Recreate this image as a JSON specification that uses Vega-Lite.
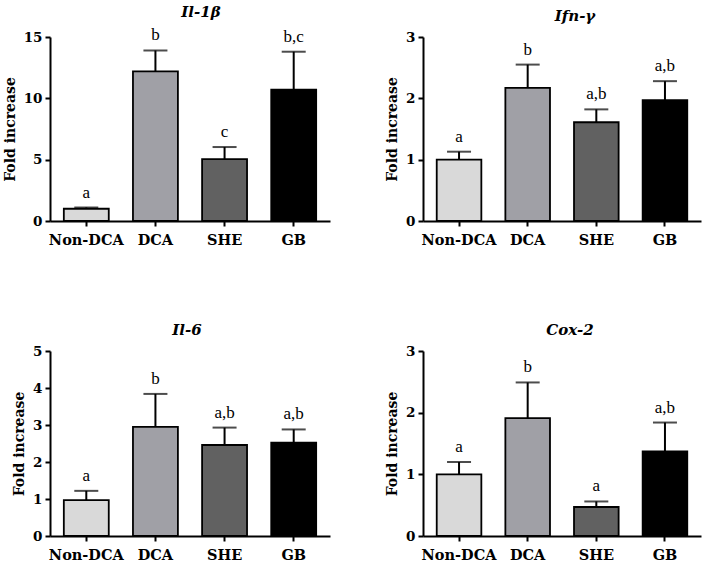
{
  "$schema": "https://vega.github.io/schema/vega-lite/v6.json",
  "background": "white",
  "padding": {"left": 3, "top": 5, "right": 5, "bottom": 5},
  "datasets": {
    "expr": [
      {"gene": "Il-1β", "group": "Non-DCA", "mean": 1.0, "upper": 1.1, "letter": "a"},
      {"gene": "Il-1β", "group": "DCA", "mean": 12.2, "upper": 13.9, "letter": "b"},
      {"gene": "Il-1β", "group": "SHE", "mean": 5.05, "upper": 6.03, "letter": "c"},
      {"gene": "Il-1β", "group": "GB", "mean": 10.7, "upper": 13.8, "letter": "b,c"},
      {"gene": "Ifn-γ", "group": "Non-DCA", "mean": 1.0, "upper": 1.13, "letter": "a"},
      {"gene": "Ifn-γ", "group": "DCA", "mean": 2.17, "upper": 2.55, "letter": "b"},
      {"gene": "Ifn-γ", "group": "SHE", "mean": 1.61, "upper": 1.82, "letter": "a,b"},
      {"gene": "Ifn-γ", "group": "GB", "mean": 1.97, "upper": 2.28, "letter": "a,b"},
      {"gene": "Il-6", "group": "Non-DCA", "mean": 0.97, "upper": 1.22, "letter": "a"},
      {"gene": "Il-6", "group": "DCA", "mean": 2.95, "upper": 3.84, "letter": "b"},
      {"gene": "Il-6", "group": "SHE", "mean": 2.46, "upper": 2.93, "letter": "a,b"},
      {"gene": "Il-6", "group": "GB", "mean": 2.52, "upper": 2.88, "letter": "a,b"},
      {"gene": "Cox-2", "group": "Non-DCA", "mean": 1.0, "upper": 1.2, "letter": "a"},
      {"gene": "Cox-2", "group": "DCA", "mean": 1.91, "upper": 2.49, "letter": "b"},
      {"gene": "Cox-2", "group": "SHE", "mean": 0.47, "upper": 0.56, "letter": "a"},
      {"gene": "Cox-2", "group": "GB", "mean": 1.37, "upper": 1.84, "letter": "a,b"}
    ]
  },
  "data": {"name": "expr"},
  "vconcat": [
    {
      "hconcat": [
        {
          "title": {"text": "Il-1β", "anchor": "middle", "dx": 11},
          "width": 280,
          "height": 184,
          "transform": [{"filter": "datum.gene === 'Il-1β'"}],
          "encoding": {
            "x": {"field": "group", "type": "nominal", "sort": ["Non-DCA", "DCA", "SHE", "GB"], "title": null},
            "y": {"field": "mean", "type": "quantitative", "title": "Fold increase",
                  "scale": {"domain": [0, 15], "nice": false}, "axis": {"values": [0, 5, 10, 15]}}
          },
          "layer": [
            {"mark": {"type": "bar", "stroke": "black", "strokeWidth": 1.8},
             "encoding": {"color": {"field": "group", "type": "nominal", "legend": null,
               "scale": {"domain": ["Non-DCA", "DCA", "SHE", "GB"], "range": ["#d9d9d9", "#a0a0a6", "#616161", "#000000"]}}}},
            {"mark": {"type": "rule", "color": "black", "strokeWidth": 2}, "encoding": {"y2": {"field": "upper"}}},
            {"mark": {"type": "tick", "color": "black", "size": 24, "thickness": 2}, "encoding": {"y": {"field": "upper", "type": "quantitative"}}},
            {"mark": {"type": "text", "dy": -10, "baseline": "alphabetic", "fontSize": 17, "fill": "black", "font": "Liberation Serif"},
             "encoding": {"y": {"field": "upper", "type": "quantitative"}, "text": {"field": "letter"}}}
          ]
        },
        {
          "title": {"text": "Ifn-γ", "anchor": "middle", "dx": 13},
          "width": 278,
          "height": 184,
          "transform": [{"filter": "datum.gene === 'Ifn-γ'"}],
          "encoding": {
            "x": {"field": "group", "type": "nominal", "sort": ["Non-DCA", "DCA", "SHE", "GB"], "title": null},
            "y": {"field": "mean", "type": "quantitative", "title": "Fold increase",
                  "scale": {"domain": [0, 3], "nice": false}, "axis": {"values": [0, 1, 2, 3]}}
          },
          "layer": [
            {"mark": {"type": "bar", "stroke": "black", "strokeWidth": 1.8},
             "encoding": {"color": {"field": "group", "type": "nominal", "legend": null,
               "scale": {"domain": ["Non-DCA", "DCA", "SHE", "GB"], "range": ["#d9d9d9", "#a0a0a6", "#616161", "#000000"]}}}},
            {"mark": {"type": "rule", "color": "black", "strokeWidth": 2}, "encoding": {"y2": {"field": "upper"}}},
            {"mark": {"type": "tick", "color": "black", "size": 24, "thickness": 2}, "encoding": {"y": {"field": "upper", "type": "quantitative"}}},
            {"mark": {"type": "text", "dy": -10, "baseline": "alphabetic", "fontSize": 17, "fill": "black", "font": "Liberation Serif"},
             "encoding": {"y": {"field": "upper", "type": "quantitative"}, "text": {"field": "letter"}}}
          ]
        }
      ]
    },
    {
      "hconcat": [
        {
          "title": {"text": "Il-6", "anchor": "middle", "dx": -3},
          "width": 280,
          "height": 185,
          "transform": [{"filter": "datum.gene === 'Il-6'"}],
          "encoding": {
            "x": {"field": "group", "type": "nominal", "sort": ["Non-DCA", "DCA", "SHE", "GB"], "title": null},
            "y": {"field": "mean", "type": "quantitative", "title": "Fold increase",
                  "scale": {"domain": [0, 5], "nice": false}, "axis": {"values": [0, 1, 2, 3, 4, 5]}}
          },
          "layer": [
            {"mark": {"type": "bar", "stroke": "black", "strokeWidth": 1.8},
             "encoding": {"color": {"field": "group", "type": "nominal", "legend": null,
               "scale": {"domain": ["Non-DCA", "DCA", "SHE", "GB"], "range": ["#d9d9d9", "#a0a0a6", "#616161", "#000000"]}}}},
            {"mark": {"type": "rule", "color": "black", "strokeWidth": 2}, "encoding": {"y2": {"field": "upper"}}},
            {"mark": {"type": "tick", "color": "black", "size": 24, "thickness": 2}, "encoding": {"y": {"field": "upper", "type": "quantitative"}}},
            {"mark": {"type": "text", "dy": -10, "baseline": "alphabetic", "fontSize": 17, "fill": "black", "font": "Liberation Serif"},
             "encoding": {"y": {"field": "upper", "type": "quantitative"}, "text": {"field": "letter"}}}
          ]
        },
        {
          "title": {"text": "Cox-2", "anchor": "middle", "dx": 8},
          "width": 278,
          "height": 185,
          "transform": [{"filter": "datum.gene === 'Cox-2'"}],
          "encoding": {
            "x": {"field": "group", "type": "nominal", "sort": ["Non-DCA", "DCA", "SHE", "GB"], "title": null},
            "y": {"field": "mean", "type": "quantitative", "title": "Fold increase",
                  "scale": {"domain": [0, 3], "nice": false}, "axis": {"values": [0, 1, 2, 3]}}
          },
          "layer": [
            {"mark": {"type": "bar", "stroke": "black", "strokeWidth": 1.8},
             "encoding": {"color": {"field": "group", "type": "nominal", "legend": null,
               "scale": {"domain": ["Non-DCA", "DCA", "SHE", "GB"], "range": ["#d9d9d9", "#a0a0a6", "#616161", "#000000"]}}}},
            {"mark": {"type": "rule", "color": "black", "strokeWidth": 2}, "encoding": {"y2": {"field": "upper"}}},
            {"mark": {"type": "tick", "color": "black", "size": 24, "thickness": 2}, "encoding": {"y": {"field": "upper", "type": "quantitative"}}},
            {"mark": {"type": "text", "dy": -10, "baseline": "alphabetic", "fontSize": 17, "fill": "black", "font": "Liberation Serif"},
             "encoding": {"y": {"field": "upper", "type": "quantitative"}, "text": {"field": "letter"}}}
          ]
        }
      ],
      "spacing": 55
    }
  ],
  "spacing": 76,
  "config": {
    "view": {"stroke": null},
    "concat": {"spacing": 55},
    "scale": {"bandPaddingInner": 0.35, "bandPaddingOuter": 0.2},
    "title": {"font": "DejaVu Serif", "fontSize": 15, "fontWeight": "bold", "fontStyle": "italic", "color": "black", "offset": 6, "frame": "group"},
    "axis": {
      "grid": false,
      "domainColor": "black",
      "domainWidth": 2,
      "tickColor": "black",
      "tickWidth": 2,
      "tickSize": 5,
      "labelColor": "black",
      "labelFont": "DejaVu Serif",
      "labelFontWeight": "bold",
      "titleColor": "black",
      "titleFont": "DejaVu Serif",
      "titleFontWeight": "bold",
      "titleFontSize": 14
    },
    "axisX": {"labelAngle": 0, "labelFontSize": 14.5, "labelPadding": 7},
    "axisY": {"labelFontSize": 13.5, "labelPadding": 3, "titlePadding": 6}
  }
}
